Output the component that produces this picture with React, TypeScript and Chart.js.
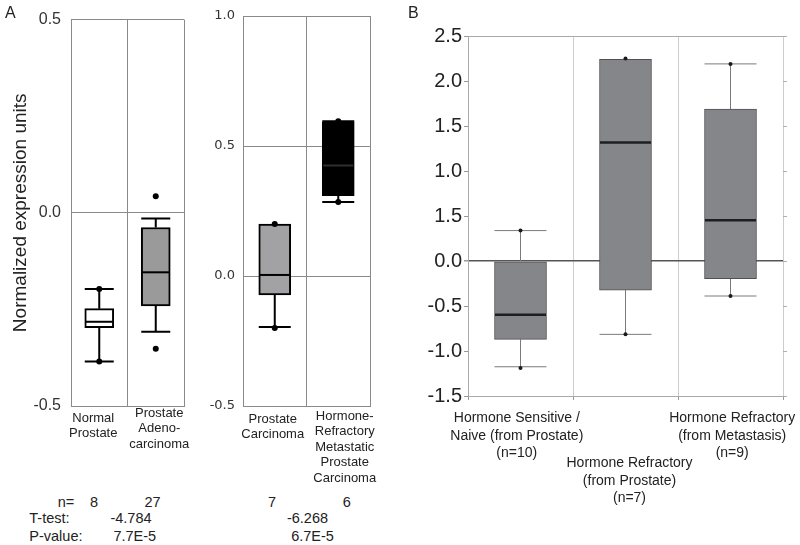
import React, { useEffect, useRef } from "react";
import { Chart, registerables } from "chart.js";

Chart.register(...registerables);

const FONT = "'Liberation Sans', Arial, Helvetica, sans-serif";
Chart.defaults.font.family = FONT;
Chart.defaults.color = "#222";

// ---------------- Data: panel A (left pair) ----------------
const A1_CATEGORIES = ["Normal Prostate", "Prostate Adenocarcinoma"];
const A1_LABEL_LINES = [["Normal", "Prostate"], ["Prostate", "Adeno-", "carcinoma"]];
const A1_WHISKER_LOW = [-0.385, -0.308];
const A1_Q1 = [-0.297, -0.241];
const A1_MEDIAN = [-0.282, -0.154];
const A1_Q3 = [-0.248, -0.038];
const A1_WHISKER_HIGH = [-0.197, -0.015];
const A1_POINTS = [[-0.197, -0.385], [0.043, -0.352]];

// ---------------- Data: panel A (right pair) ----------------
const A2_CATEGORIES = ["Prostate Carcinoma", "Hormone-Refractory Metastatic Prostate Carcinoma"];
const A2_LABEL_LINES = [["Prostate", "Carcinoma"], ["Hormone-", "Refractory", "Metastatic", "Prostate", "Carcinoma"]];
const A2_WHISKER_LOW = [-0.196, 0.285];
const A2_Q1 = [-0.073, 0.309];
const A2_MEDIAN = [0.004, 0.425];
const A2_Q3 = [0.2, 0.591];
const A2_WHISKER_HIGH = [0.2, 0.595];
const A2_POINTS = [[0.2, -0.2], [0.595, 0.285]];

// ---------------- Data: panel B ----------------
const B_CATEGORIES = [
  "Hormone Sensitive / Naive (from Prostate) (n=10)",
  "Hormone Refractory (from Prostate) (n=7)",
  "Hormone Refractory (from Metastasis) (n=9)",
];
const B_LABEL_LINES = [
  ["Hormone Sensitive /", "Naive (from Prostate)", "(n=10)"],
  ["Hormone Refractory", "(from Prostate)", "(n=7)"],
  ["Hormone Refractory", "(from Metastasis)", "(n=9)"],
];
const B_WHISKER_LOW = [-1.175, -0.815, -0.389];
const B_Q1 = [-0.871, -0.323, -0.196];
const B_MEDIAN = [-0.597, 1.317, 0.453];
const B_Q3 = [0.0, 2.24, 1.688];
const B_WHISKER_HIGH = [0.338, 2.24, 2.19];
const B_POINTS = [[0.34, -1.19], [2.25, -0.815], [2.19, -0.389]];
const B_Y_TICK_LABELS = ["-1.5", "-1.0", "-0.5", "0.0", "1.5", "1.0", "1.5", "2.0", "2.5"];

// ---------------- Statistics text (panel A) ----------------
const STAT_ROW_LABELS = ["n=", "T-test:", "P-value:"];
const N_VALUES = ["8", "27", "7", "6"];
const T_VALUES = ["-4.784", "-6.268"];
const P_VALUES = ["7.7E-5", "6.7E-5"];

type Panel = {
  left: number; top: number; w: number; h: number;
  pad: { top: number; right: number; bottom: number; left: number };
  yWidth: number;
  categories: string[]; labelLines: string[][];
  labelDx: number[]; labelDy: number[]; labelLineH: number; labelFont: string;
  low: number[]; q1: number[]; med: number[]; q3: number[]; high: number[]; points: number[][];
  fills: string[]; boxBorder: string; boxBorderWidth: number;
  whiskerColor: string; whiskerWidth: number; medianColors: string[]; medianWidth: number;
  barThickness: number; pointRadius: number; pointColor: string;
  yMin: number; yMax: number; yStep: number;
  tickFont: any; tickColor: string; tickPadding: number; yTickLength: number;
  tickLabel: (v: number, i: number) => string;
  yGridColor: (v: number) => string; yGridWidth: (v: number) => number;
  frameColor: string; xGridColor: string; xTickLength: number; tickMarkColor: string;
  rightTicks: boolean;
  yTitle?: string;
};

const boxPlugin = {
  id: "boxWhisker",
  beforeDatasetsDraw(chart: any, _args: any, opts: any) {
    const p: Panel = opts.panel;
    if (!p) return;
    const { ctx } = chart;
    const y = chart.scales.y;
    const meta = chart.getDatasetMeta(1);
    ctx.save();
    ctx.strokeStyle = p.whiskerColor;
    ctx.lineWidth = p.whiskerWidth;
    meta.data.forEach((bar: any, i: number) => {
      const x = bar.x;
      const half = bar.width / 2;
      const yLow = y.getPixelForValue(p.low[i]);
      const yQ1 = y.getPixelForValue(p.q1[i]);
      const yQ3 = y.getPixelForValue(p.q3[i]);
      const yHigh = y.getPixelForValue(p.high[i]);
      ctx.beginPath();
      ctx.moveTo(x, yQ1); ctx.lineTo(x, yLow);
      ctx.moveTo(x - half, yLow); ctx.lineTo(x + half, yLow);
      if (p.high[i] > p.q3[i]) {
        ctx.moveTo(x, yQ3); ctx.lineTo(x, yHigh);
        ctx.moveTo(x - half, yHigh); ctx.lineTo(x + half, yHigh);
      }
      ctx.stroke();
    });
    ctx.restore();
  },
  afterDatasetDraw(chart: any, args: any, opts: any) {
    const p: Panel = opts.panel;
    if (!p || args.index !== 1) return;
    const { ctx } = chart;
    const y = chart.scales.y;
    const meta = chart.getDatasetMeta(1);
    ctx.save();
    ctx.lineWidth = p.medianWidth;
    meta.data.forEach((bar: any, i: number) => {
      const x = bar.x;
      const half = bar.width / 2 - p.boxBorderWidth / 2;
      const yM = y.getPixelForValue(p.med[i]);
      ctx.strokeStyle = p.medianColors[i];
      ctx.beginPath();
      ctx.moveTo(x - half, yM); ctx.lineTo(x + half, yM);
      ctx.stroke();
    });
    ctx.restore();
  },
  afterDraw(chart: any, _args: any, opts: any) {
    const p: Panel = opts.panel;
    if (!p) return;
    const { ctx, chartArea } = chart;
    const xs = chart.scales.x;
    ctx.save();
    ctx.fillStyle = "#222";
    ctx.font = p.labelFont;
    ctx.textAlign = "center";
    ctx.textBaseline = "middle";
    p.labelLines.forEach((lines, i) => {
      const cx = xs.getPixelForValue(i) + p.labelDx[i];
      lines.forEach((t, k) => {
        ctx.fillText(t, cx, chartArea.bottom + p.labelDy[i] + k * p.labelLineH);
      });
    });
    ctx.restore();
  },
};

function buildConfig(p: Panel): any {
  const pts = p.points.flatMap((vals, i) => vals.map((v) => ({ x: p.categories[i], y: v })));
  const scales: any = {
    x: {
      type: "category",
      offset: true,
      grid: {
        offset: true,
        color: p.xGridColor,
        drawTicks: p.xTickLength > 0,
        tickLength: p.xTickLength,
        tickColor: p.tickMarkColor,
      },
      border: { display: true, color: p.frameColor },
      ticks: { display: false },
      afterFit: (s: any) => { s.height = 0; },
    },
    y: {
      type: "linear",
      position: "left",
      min: p.yMin,
      max: p.yMax,
      ticks: {
        stepSize: p.yStep,
        font: p.tickFont,
        color: p.tickColor,
        padding: p.tickPadding,
        callback: (v: any, i: number) => p.tickLabel(Number(v), i),
      },
      grid: {
        color: (c: any) => p.yGridColor(c.tick ? c.tick.value : 0),
        lineWidth: (c: any) => p.yGridWidth(c.tick ? c.tick.value : 0),
        drawTicks: p.yTickLength > 0,
        tickLength: p.yTickLength,
        tickColor: p.tickMarkColor,
      },
      border: { display: true, color: p.frameColor },
      title: p.yTitle
        ? { display: true, text: p.yTitle, font: { family: FONT, size: 19 }, color: "#222", padding: { top: 9, bottom: 0 } }
        : { display: false },
      afterFit: (s: any) => { s.width = p.yWidth; },
    },
  };
  if (p.rightTicks) {
    scales.y2 = {
      type: "linear",
      position: "right",
      min: p.yMin,
      max: p.yMax,
      ticks: { display: false, stepSize: p.yStep },
      grid: { drawOnChartArea: false, drawTicks: true, tickLength: 4, tickColor: "#b0b0b0" },
      border: { display: false },
      afterFit: (s: any) => { s.width = 0; },
    };
  }
  return {
    type: "bar",
    data: {
      labels: p.categories,
      datasets: [
        {
          type: "line",
          label: "points",
          data: pts,
          showLine: false,
          pointRadius: p.pointRadius,
          pointHoverRadius: p.pointRadius,
          pointBackgroundColor: p.pointColor,
          pointBorderWidth: 0,
          xAxisID: "x",
          yAxisID: "y",
        },
        {
          type: "bar",
          label: "box",
          data: p.q1.map((v, i) => [v, p.q3[i]]),
          backgroundColor: p.fills,
          borderColor: p.boxBorder,
          borderWidth: p.boxBorderWidth,
          borderSkipped: false,
          barThickness: p.barThickness,
          xAxisID: "x",
          yAxisID: "y",
        },
      ],
    },
    options: {
      responsive: false,
      animation: false,
      events: [],
      layout: { padding: p.pad },
      scales,
      plugins: {
        legend: { display: false },
        tooltip: { enabled: false },
        boxWhisker: { panel: p },
      },
    },
    plugins: [boxPlugin],
  };
}

const aGrid = "#8a8a8a";

const PANEL_A1: Panel = {
  left: 0, top: 0, w: 192, h: 490,
  pad: { top: 16, right: 8, bottom: 84, left: 0 },
  yWidth: 71,
  categories: A1_CATEGORIES, labelLines: A1_LABEL_LINES,
  labelDx: [-6, 3.5], labelDy: [12, 7], labelLineH: 15.6, labelFont: `13px ${FONT}`,
  low: A1_WHISKER_LOW, q1: A1_Q1, med: A1_MEDIAN, q3: A1_Q3, high: A1_WHISKER_HIGH, points: A1_POINTS,
  fills: ["#ffffff", "#9a9a9a"], boxBorder: "#000", boxBorderWidth: 2,
  whiskerColor: "#000", whiskerWidth: 2, medianColors: ["#000", "#000"], medianWidth: 2,
  barThickness: 29, pointRadius: 3, pointColor: "#000",
  yMin: -0.5, yMax: 0.5, yStep: 0.5,
  tickFont: { family: FONT, size: 16 }, tickColor: "#333", tickPadding: 10, yTickLength: 0,
  tickLabel: (v) => v.toFixed(1),
  yGridColor: () => aGrid, yGridWidth: () => 1,
  frameColor: aGrid, xGridColor: aGrid, xTickLength: 0, tickMarkColor: aGrid,
  rightTicks: false,
  yTitle: "Normalized expression units",
};

const PANEL_A2: Panel = {
  left: 200, top: 0, w: 180, h: 490,
  pad: { top: 16, right: 10, bottom: 84, left: 0 },
  yWidth: 43,
  categories: A2_CATEGORIES, labelLines: A2_LABEL_LINES,
  labelDx: [-2, 6.5], labelDy: [13, 10], labelLineH: 15.6, labelFont: `13px ${FONT}`,
  low: A2_WHISKER_LOW, q1: A2_Q1, med: A2_MEDIAN, q3: A2_Q3, high: A2_WHISKER_HIGH, points: A2_POINTS,
  fills: ["#a2a2a4", "#000000"], boxBorder: "#000", boxBorderWidth: 2,
  whiskerColor: "#000", whiskerWidth: 2, medianColors: ["#000", "#2e2e2e"], medianWidth: 2,
  barThickness: 32, pointRadius: 3, pointColor: "#000",
  yMin: -0.5, yMax: 1.0, yStep: 0.5,
  tickFont: { family: "'DejaVu Sans', Verdana, sans-serif", size: 13 }, tickColor: "#333", tickPadding: 8, yTickLength: 0,
  tickLabel: (v) => v.toFixed(1),
  yGridColor: () => aGrid, yGridWidth: () => 1,
  frameColor: aGrid, xGridColor: aGrid, xTickLength: 0, tickMarkColor: aGrid,
  rightTicks: false,
};

const PANEL_B: Panel = {
  left: 420, top: 0, w: 380, h: 520,
  pad: { top: 36, right: 17, bottom: 124, left: 0 },
  yWidth: 48,
  categories: B_CATEGORIES, labelLines: B_LABEL_LINES,
  labelDx: [-3.7, 4, 1.7], labelDy: [22.3, 67.3, 22.3], labelLineH: 17.5, labelFont: `14px ${FONT}`,
  low: B_WHISKER_LOW, q1: B_Q1, med: B_MEDIAN, q3: B_Q3, high: B_WHISKER_HIGH, points: B_POINTS,
  fills: ["#85868a", "#85868a", "#85868a"], boxBorder: "#505052", boxBorderWidth: 1,
  whiskerColor: "#7a7a7a", whiskerWidth: 1, medianColors: ["#1e1e1e", "#1e1e1e", "#1e1e1e"], medianWidth: 2.5,
  barThickness: 52, pointRadius: 2, pointColor: "#1a1a1a",
  yMin: -1.5, yMax: 2.5, yStep: 0.5,
  tickFont: { family: FONT, size: 20 }, tickColor: "#222", tickPadding: 2, yTickLength: 4,
  tickLabel: (_v, i) => B_Y_TICK_LABELS[i] ?? "",
  yGridColor: (v) => (Math.abs(v) < 1e-9 ? "#555555" : Math.abs(v - 2.5) < 1e-9 ? "#aaaaaa" : "rgba(0,0,0,0)"),
  yGridWidth: (v) => (Math.abs(v) < 1e-9 ? 1.5 : 1),
  frameColor: "#aaaaaa", xGridColor: "#cccccc", xTickLength: 4, tickMarkColor: "#999999",
  rightTicks: true,
};

function BoxPanel({ panel }: { panel: Panel }) {
  const ref = useRef<HTMLCanvasElement>(null);
  useEffect(() => {
    const chart = new Chart(ref.current as HTMLCanvasElement, buildConfig(panel));
    return () => chart.destroy();
  }, [panel]);
  return (
    <canvas
      ref={ref}
      width={panel.w}
      height={panel.h}
      style={{ position: "absolute", left: panel.left, top: panel.top, width: panel.w, height: panel.h }}
    />
  );
}

const textBase: React.CSSProperties = {
  position: "absolute",
  fontFamily: FONT,
  fontSize: 14.5,
  color: "#222",
  whiteSpace: "nowrap",
  lineHeight: "16px",
};

function Centered({ x, y, children, size }: { x: number; y: number; children: React.ReactNode; size?: number }) {
  return (
    <div style={{ ...textBase, left: x, top: y, transform: "translate(-50%, -50%)", fontSize: size ?? textBase.fontSize }}>
      {children}
    </div>
  );
}

function LeftText({ x, y, children }: { x: number; y: number; children: React.ReactNode }) {
  return <div style={{ ...textBase, left: x, top: y, transform: "translateY(-50%)" }}>{children}</div>;
}

const N_X = [94, 152.5, 272, 346.7];
const T_X = [131, 307.5];
const P_X = [134.8, 312.5];
const ROW_Y = [502, 518.3, 536];

export default function App() {
  return (
    <div
      style={{
        position: "absolute",
        left: 0,
        top: 0,
        width: 800,
        height: 545,
        background: "#ffffff",
        overflow: "hidden",
      }}
    >
      <BoxPanel panel={PANEL_A1} />
      <BoxPanel panel={PANEL_A2} />
      <BoxPanel panel={PANEL_B} />
      <div style={{ ...textBase, left: 5, top: 5, fontSize: 16 }}>A</div>
      <div style={{ ...textBase, left: 408, top: 5, fontSize: 16 }}>B</div>
      <Centered x={66} y={ROW_Y[0]}>{STAT_ROW_LABELS[0]}</Centered>
      {N_VALUES.map((t, i) => (
        <Centered key={"n" + i} x={N_X[i]} y={ROW_Y[0]}>{t}</Centered>
      ))}
      <LeftText x={29.3} y={ROW_Y[1]}>{STAT_ROW_LABELS[1]}</LeftText>
      {T_VALUES.map((t, i) => (
        <Centered key={"t" + i} x={T_X[i]} y={ROW_Y[1]}>{t}</Centered>
      ))}
      <LeftText x={29.3} y={ROW_Y[2]}>{STAT_ROW_LABELS[2]}</LeftText>
      {P_VALUES.map((t, i) => (
        <Centered key={"p" + i} x={P_X[i]} y={ROW_Y[2]}>{t}</Centered>
      ))}
    </div>
  );
}
